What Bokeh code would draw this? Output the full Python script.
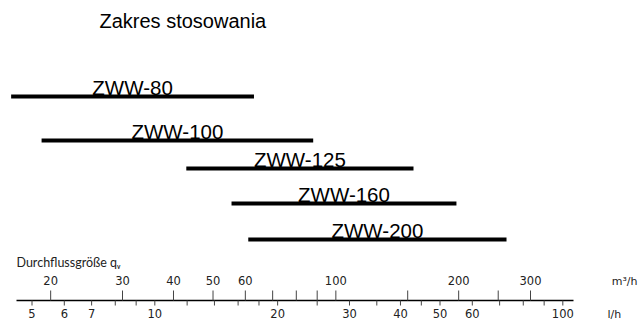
import numpy as np
from bokeh.plotting import figure
from bokeh.models import Range1d
from bokeh.core.properties import value
from bokeh.embed import file_html
from bokeh.resources import INLINE

# ---- data ----
title = "Zakres stosowania"
models = ["ZWW-80", "ZWW-100", "ZWW-125", "ZWW-160", "ZWW-200"]
q_min = [16, 19, 43, 55.5, 61]        # m3/h
q_max = [63, 88, 155, 197.5, 262]     # m3/h

m3h_labels = [20, 30, 40, 50, 60, 100, 200, 300]
m3h_ticks = [20, 30, 40, 50, 60, 70, 80, 90, 100, 150, 200, 250, 300]
ls_labels = [5, 6, 7, 10, 20, 30, 40, 50, 60, 100]
ls_ticks = [5, 6, 7, 8, 9, 10, 12, 14, 16, 18, 20, 25, 30, 35, 40, 45, 50, 60, 70, 80, 90, 100]
axis_caption = "Durchflussgröße q\u1d65"
unit_top = "m\u00b3/h"
unit_bottom = "l/h"
LS_TO_M3H = 3.6

# ---- layout (screen-like coordinates) ----
W, H = 638, 320
REF_PX, REF_Q, PX_DEC = 31.5, 18.0, 408.0


def q_at(px):
    return REF_Q * 10 ** ((px - REF_PX) / PX_DEC)


def base(y, size):
    # compensate for where the text glyph puts its alphabetic baseline
    return y - 0.4 * size


row_y = [96, 140, 168, 203, 239]
line_y = 300
axis_x0, axis_x1 = q_at(16), q_at(573)

p = figure(width=W, height=H, x_axis_type="log",
           x_range=Range1d(q_at(0), q_at(W)),
           y_range=Range1d(H, 0),
           x_axis_location=None, y_axis_location=None,
           output_backend="svg", toolbar_location=None, min_border=0)
p.grid.visible = False
p.outline_line_color = None
p.background_fill_color = "white"
p.border_fill_color = "white"

label_font = value("Liberation Sans")

# title
p.text(x=[q_at(99)], y=[base(28, 20)], text=[title], text_align="left",
       text_baseline="alphabetic", text_font=label_font,
       text_font_size="20px", text_color="black")

# bars
p.segment(x0=q_min, y0=row_y, x1=q_max, y1=row_y, line_width=4,
          line_color="black", line_cap="butt")
mid = np.sqrt(np.array(q_min) * np.array(q_max))
p.text(x=mid, y=base(np.array(row_y) - 1, 20.5), text=models, text_align="center",
       text_baseline="alphabetic", text_font=label_font,
       text_font_size="20.5px", text_color="black")

# axis
p.segment(x0=[axis_x0], y0=[line_y], x1=[axis_x1], y1=[line_y],
          line_width=1.3, line_color="black")
p.segment(x0=m3h_ticks, y0=line_y, x1=m3h_ticks, y1=line_y - 10,
          line_width=1, line_color="#444444")
ls_q = np.array(ls_ticks) * LS_TO_M3H
p.segment(x0=ls_q, y0=line_y, x1=ls_q, y1=line_y + 5,
          line_width=1, line_color="#444444")

num_font = value("DejaVu Sans")
p.text(x=m3h_labels, y=base(line_y - 15, 11.5), text=[str(v) for v in m3h_labels],
       text_align="center", text_baseline="alphabetic", text_font=num_font,
       text_font_size="11.5px", text_color="#222222")
p.text(x=np.array(ls_labels) * LS_TO_M3H, y=base(line_y + 18, 11.5),
       text=[str(v) for v in ls_labels], text_align="center",
       text_baseline="alphabetic", text_font=num_font,
       text_font_size="11.5px", text_color="#222222")

p.text(x=[q_at(637)], y=[base(line_y - 15, 11)], text=[unit_top], text_align="right",
       text_baseline="alphabetic", text_font=num_font,
       text_font_size="11px", text_color="#222222")
p.text(x=[q_at(607)], y=[base(line_y + 18, 11)], text=[unit_bottom], text_align="left",
       text_baseline="alphabetic", text_font=num_font,
       text_font_size="11px", text_color="#222222")

p.text(x=[axis_x0], y=[base(line_y - 33, 12.5)], text=[axis_caption], text_align="left",
       text_baseline="alphabetic", text_font=value("Lato"),
       text_font_size="12.5px", text_color="#222222")

open("out.html", "w").write(file_html(p, INLINE))
